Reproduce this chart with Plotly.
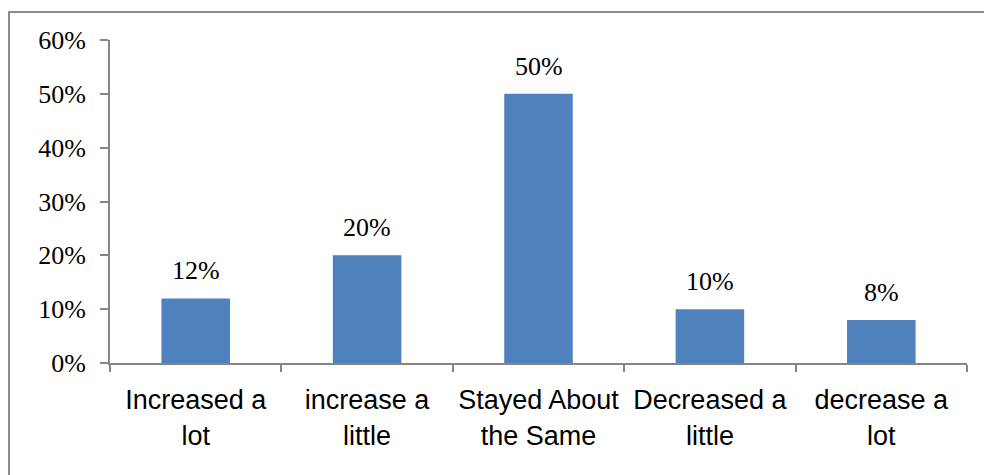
import plotly.graph_objects as go

categories = ["Increased a<br>lot", "increase a<br>little", "Stayed About<br>the Same",
              "Decreased a<br>little", "decrease a<br>lot"]
values = [0.12, 0.20, 0.50, 0.10, 0.08]
labels = ["12%", "20%", "50%", "10%", "8%"]
y_ticks = [0, 0.1, 0.2, 0.3, 0.4, 0.5, 0.6]
y_ticktext = ["0%", "10%", "20%", "30%", "40%", "50%", "60%"]

W, H = 984, 475
L, R, T, B = 110, 17, 40, 112
pw, ph = W - L - R, H - T - B

fig = go.Figure()
fig.add_trace(go.Bar(x=categories, y=values, marker=dict(color="#4F81BD", line=dict(width=0)),
                     hoverinfo="skip"))

for c, v, t in zip(categories, values, labels):
    fig.add_annotation(x=c, y=v, text=t, showarrow=False, yanchor="bottom", yshift=11,
                       font=dict(family="Liberation Serif", size=26, color="black"))

axis_col = "#868686"
fig.update_layout(
    width=W, height=H,
    margin=dict(l=L, r=R, t=T, b=B),
    paper_bgcolor="white", plot_bgcolor="white",
    showlegend=False,
    bargap=0.6,
    xaxis=dict(showline=True, linecolor=axis_col, linewidth=2, ticks="outside",
               tickson="boundaries", ticklen=7, tickcolor=axis_col, tickwidth=2,
               ticklabelstandoff=12,
               tickfont=dict(family="Liberation Sans", size=27, color="black"),
               showgrid=False, zeroline=False),
    yaxis=dict(range=[0, 0.6], tickvals=y_ticks, ticktext=y_ticktext,
               showline=True, linecolor=axis_col, linewidth=2, ticks="outside",
               ticklen=8, tickcolor=axis_col, tickwidth=2, ticklabelstandoff=9,
               tickfont=dict(family="Liberation Serif", size=26, color="black"),
               showgrid=False, zeroline=False),
)

fig.add_shape(type="rect", xref="paper", yref="paper",
              x0=(9 - L) / pw, x1=(W + 20 - L) / pw,
              y0=-(H + 20 - T - ph) / ph, y1=(H - B - 12) / ph,
              line=dict(color="#8c8c8c", width=2), fillcolor="rgba(0,0,0,0)", layer="below")

fig.write_html("out.html")
